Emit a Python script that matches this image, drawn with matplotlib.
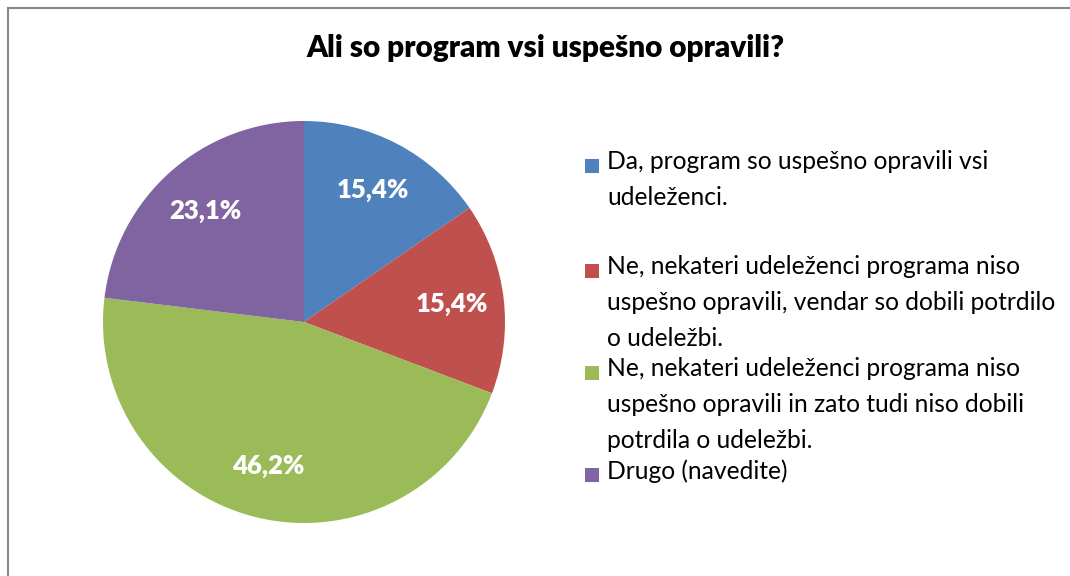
import matplotlib.pyplot as plt
from matplotlib.patches import Rectangle
from matplotlib.lines import Line2D

# podatki
labels = [
    "Da, program so uspešno opravili vsi\nudeleženci.",
    "Ne, nekateri udeleženci programa niso\nuspešno opravili, vendar so dobili potrdilo\no udeležbi.",
    "Ne, nekateri udeleženci programa niso\nuspešno opravili in zato tudi niso dobili\npotrdila o udeležbi.",
    "Drugo (navedite)",
]
values = [15.4, 15.4, 46.2, 23.1]
colors = ["#4F81BD", "#C0504D", "#9BBB59", "#8064A2"]
title = "Ali so program vsi uspešno opravili?"

plt.rcParams['font.family'] = ['Lato', 'DejaVu Sans']

W, H = 1070, 576
fig = plt.figure(figsize=(W / 100, H / 100), dpi=100)

# okvir
fig.add_artist(Line2D([7.5 / W, 1], [1 - 7.5 / H, 1 - 7.5 / H], color="#878787", lw=1.5))
fig.add_artist(Line2D([7.5 / W, 7.5 / W], [0, 1 - 7.5 / H], color="#878787", lw=1.5))

# tortni diagram
cx, cy, r = 304, 322, 201
ax = fig.add_axes([(cx - r) / W, (H - cy - r) / H, 2 * r / W, 2 * r / H])
wedges, texts, autotexts = ax.pie(
    values, colors=colors, startangle=90, counterclock=False,
    autopct=lambda p: ('%.1f' % p).replace('.', ',') + '%',
    pctdistance=0.74, radius=1,
    wedgeprops=dict(linewidth=0),
    textprops=dict(color='white', fontsize=18.5, fontweight='heavy'))
ax.set_xlim(-1, 1)
ax.set_ylim(-1, 1)
ax.set_aspect('auto')
ax.axis('off')

fig.text(545 / W, 1 - 48 / H, title, ha='center', va='center',
         fontsize=21.4, fontweight='heavy', color='black')

# legenda
first_lines = [165, 270, 372, 474]
for lab, col, y in zip(labels, colors, first_lines):
    fig.add_artist(Rectangle((585 / W, 1 - (y + 8) / H), 14 / W, 14 / H,
                             facecolor=col, edgecolor='none'))
    fig.text(607 / W, 1 - (y - 15) / H, lab, ha='left', va='top',
             fontsize=17.7, color='black', linespacing=1.68)

fig.savefig('out.png', dpi=100)
